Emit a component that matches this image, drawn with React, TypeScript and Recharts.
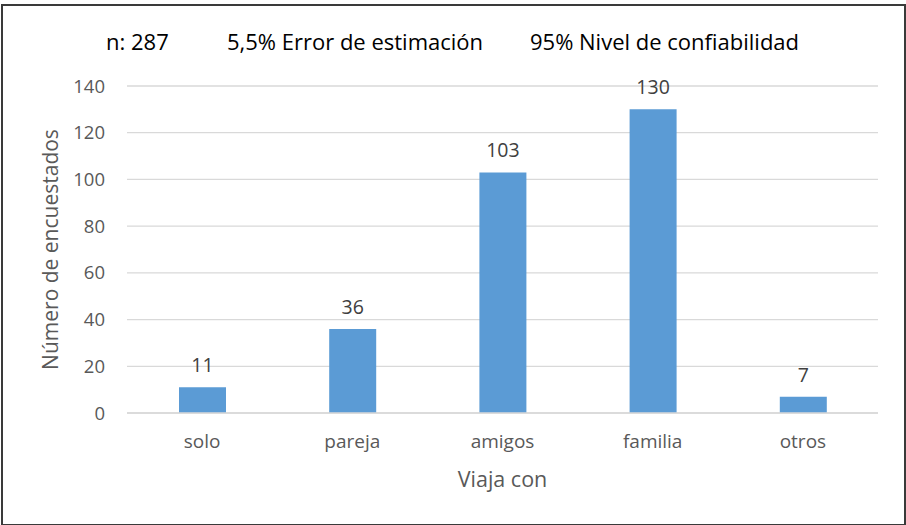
import { BarChart, Bar, XAxis, YAxis, CartesianGrid, LabelList } from "recharts";

const categories = ["solo", "pareja", "amigos", "familia", "otros"];
const respondents = [11, 36, 103, 130, 7];
const yTicks = [0, 20, 40, 60, 80, 100, 120, 140];
const titleParts = ["n: 287", "5,5% Error de estimación", "95% Nivel de confiabilidad"];
const titleLeft = [106, 227, 530];

const data = categories.map((name, i) => ({ name, value: respondents[i] }));

const FONT = "'Open Sans', 'Noto Sans', sans-serif";

export default function App() {
  return (
    <div
      style={{
        position: "absolute",
        left: 1,
        top: 4,
        width: 901,
        height: 518,
        border: "2px solid #3a3a3a",
        background: "#fff",
        fontFamily: FONT,
      }}
    >
      {titleParts.map((t, i) => (
        <span
          key={t}
          style={{
            position: "absolute",
            left: titleLeft[i] - 3,
            top: 20,
            fontSize: 22,
            lineHeight: "30px",
            color: "#000",
            whiteSpace: "nowrap",
          }}
        >
          {t}
        </span>
      ))}
      <BarChart
        width={899}
        height={516}
        data={data}
        margin={{ top: 80, right: 24, bottom: 29, left: 24 }}
        style={{ position: "absolute", left: 0, top: 0, fontFamily: FONT }}
      >
        <CartesianGrid vertical={false} stroke="#d9d9d9" strokeWidth={1.3} />
        <XAxis
          dataKey="name"
          height={80}
          tickSize={0}
          tickMargin={22}
          tickLine={false}
          axisLine={{ stroke: "#d9d9d9", strokeWidth: 1.3 }}
          tick={{ fill: "#595959", fontSize: 19 }}
          label={{
            value: "Viaja con",
            position: "insideBottom",
            offset: 6,
            fill: "#595959",
            fontSize: 21.5,
          }}
        />
        <YAxis
          width={100}
          domain={[0, 140]}
          ticks={yTicks}
          axisLine={false}
          tickLine={false}
          tickSize={0}
          tickMargin={22}
          tick={{ fill: "#595959", fontSize: 18.5 }}
          label={{
            value: "Número de encuestados",
            angle: -90,
            position: "insideLeft",
            offset: 24,
            fill: "#595959",
            fontSize: 21,
            style: { textAnchor: "middle" },
          }}
        />
        <Bar dataKey="value" fill="#5b9bd5" barSize={47} isAnimationActive={false}>
          <LabelList dataKey="value" position="top" offset={15} fill="#404040" fontSize={19.5} />
        </Bar>
      </BarChart>
    </div>
  );
}
